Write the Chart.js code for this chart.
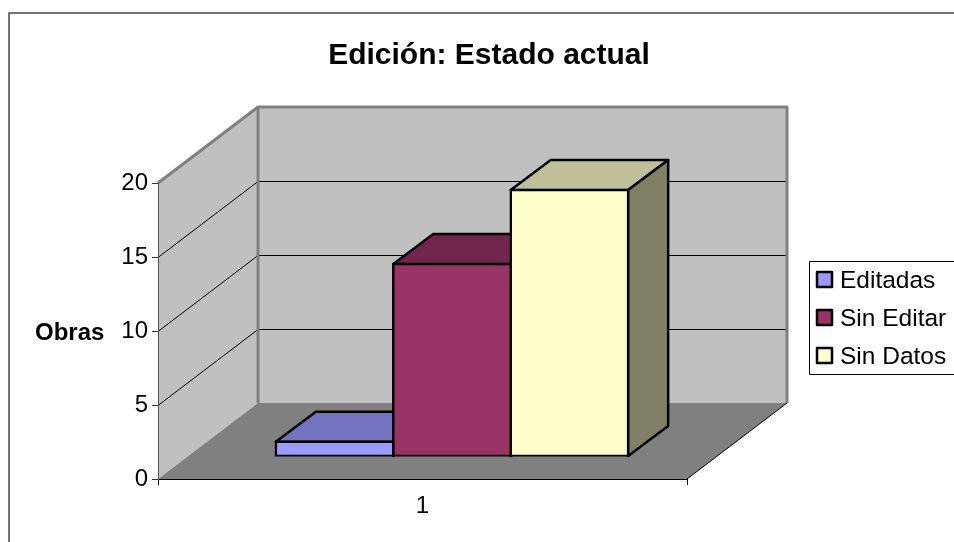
<!DOCTYPE html>
<html>
<head>
<meta charset="utf-8">
<style>
  html, body { margin: 0; padding: 0; background: #fff; }
  canvas { display: block; }
</style>
<script src="https://cdn.jsdelivr.net/npm/chart.js@4"></script>
</head>
<body>
<canvas id="myChart" width="954" height="542"></canvas>
<script>
const categories = ['1'];
const seriesNames = ['Editadas', 'Sin Editar', 'Sin Datos'];
const editadas = [1];
const sinEditar = [13];
const sinDatos = [18];
const seriesColors = ['#9999ff', '#993366', '#ffffcc'];
const topColors = ['#7373bf', '#73264d', '#bfbf99'];
const sideColors = ['#4d4d80', '#4d1a33', '#808066'];
const chartTitle = 'Edición: Estado actual';
const yAxisTitle = 'Obras';

const FONT = '"Liberation Sans", Arial, sans-serif';
// depth of the box and how far the bars sit inside it
const WALL_DX = 100, WALL_DY = 76;
const BAR_DX = 40, BAR_DY = 30;
const BAR_SHIFT_X = 29.5, BAR_SHIFT_Y = 22.5;
const BAR_LINE = 2.5;

function poly(ctx, pts, fill, stroke, width) {
  ctx.beginPath();
  pts.forEach((p, i) => i ? ctx.lineTo(p[0], p[1]) : ctx.moveTo(p[0], p[1]));
  if (fill) {
    ctx.closePath();
    ctx.fillStyle = fill;
    ctx.fill();
  }
  if (stroke) {
    ctx.strokeStyle = stroke;
    ctx.lineWidth = width;
    ctx.lineJoin = 'round';
    ctx.stroke();
  }
}

const box3d = {
  id: 'box3d',
  afterLayout(chart) {
    // title is centred over the walls, not over the canvas
    chart.titleBlock.left = 0;
    chart.titleBlock.right = 978;
  },
  beforeDraw(chart) {
    const ctx = chart.ctx;
    const { left, right, top, bottom } = chart.chartArea;
    const y = chart.scales.y;
    ctx.save();
    // outer frame
    poly(ctx, [[9, 542], [9, 13], [954, 13]], null, '#444', 1.5);
    // walls and floor
    poly(ctx, [[left, top], [left + WALL_DX, top - WALL_DY], [left + WALL_DX, bottom - WALL_DY], [left, bottom]], '#c0c0c0');
    poly(ctx, [[left + WALL_DX, top - WALL_DY], [right + WALL_DX, top - WALL_DY], [right + WALL_DX, bottom - WALL_DY], [left + WALL_DX, bottom - WALL_DY]], '#c0c0c0');
    poly(ctx, [[left, bottom], [left + WALL_DX, bottom - WALL_DY], [right + WALL_DX, bottom - WALL_DY], [right, bottom]], '#808080');
    // gridlines on both walls
    y.ticks.forEach(t => {
      if (t.value === 0) return;
      const py = y.getPixelForValue(t.value) + 0.5;
      poly(ctx, [[left, py], [left + WALL_DX, py - WALL_DY], [right + WALL_DX, py - WALL_DY]], null, '#000', 1);
    });
    // wall edges
    poly(ctx, [[left, top], [left + WALL_DX, top - WALL_DY], [right + WALL_DX, top - WALL_DY], [right + WALL_DX, bottom - WALL_DY]], null, '#808080', 3);
    poly(ctx, [[left + WALL_DX, top - WALL_DY], [left + WALL_DX, bottom - WALL_DY]], null, '#808080', 3);
    poly(ctx, [[right, bottom], [right + WALL_DX, bottom - WALL_DY]], null, '#000', 1);
    ctx.restore();
  },
  beforeDatasetsDraw(chart) {
    // top and side faces, left to right; the front faces then cover the overlaps
    const ctx = chart.ctx;
    ctx.save();
    chart.data.datasets.forEach((ds, i) => {
      const bar = chart.getDatasetMeta(i).data[0];
      const x0 = bar.x - bar.width / 2 + BAR_SHIFT_X;
      const x1 = bar.x + bar.width / 2 + BAR_SHIFT_X;
      const yt = bar.y - BAR_SHIFT_Y;
      const yb = bar.base - BAR_SHIFT_Y;
      poly(ctx, [[x0, yt], [x0 + BAR_DX, yt - BAR_DY], [x1 + BAR_DX, yt - BAR_DY], [x1, yt]], topColors[i], '#000', BAR_LINE);
      poly(ctx, [[x1, yt], [x1 + BAR_DX, yt - BAR_DY], [x1 + BAR_DX, yb - BAR_DY], [x1, yb]], sideColors[i], '#000', BAR_LINE);
    });
    ctx.restore();
  },
  beforeDatasetDraw(chart) {
    chart.ctx.save();
    chart.ctx.translate(BAR_SHIFT_X, -BAR_SHIFT_Y);
  },
  afterDatasetDraw(chart) {
    chart.ctx.restore();
  },
  afterDraw(chart) {
    const ctx = chart.ctx;
    ctx.save();
    // horizontal axis title
    ctx.font = 'bold 24px ' + FONT;
    ctx.fillStyle = '#000';
    ctx.textAlign = 'left';
    ctx.textBaseline = 'middle';
    ctx.fillText(yAxisTitle, 35, 333);
    // legend
    poly(ctx, [[954, 261.5], [809.5, 261.5], [809.5, 374.5], [954, 374.5]], null, '#000', 1);
    ctx.font = '24.5px ' + FONT;
    chart.data.datasets.forEach((ds, i) => {
      const rowY = 280 + i * 38;
      ctx.fillStyle = ds.backgroundColor;
      ctx.fillRect(817, rowY - 8, 15, 15);
      ctx.strokeStyle = '#000';
      ctx.lineWidth = 2.5;
      ctx.strokeRect(817, rowY - 8, 15, 15);
      ctx.fillStyle = '#000';
      ctx.fillText(ds.label, 840, rowY + 1);
    });
    ctx.restore();
  }
};

const seriesValues = [editadas, sinEditar, sinDatos];

new Chart(document.getElementById('myChart').getContext('2d'), {
  type: 'bar',
  data: {
    labels: categories,
    datasets: seriesNames.map((name, i) => ({
      label: name,
      data: seriesValues[i],
      backgroundColor: seriesColors[i],
      borderColor: '#000',
      borderWidth: BAR_LINE,
      borderSkipped: false,
      inflateAmount: BAR_LINE / 2,
      barPercentage: 1,
      categoryPercentage: 0.666
    }))
  },
  options: {
    responsive: false,
    animation: false,
    layout: { padding: { left: 0, right: 267, top: 0, bottom: 0 } },
    plugins: {
      legend: { display: false },
      tooltip: { enabled: false },
      title: {
        display: true,
        text: chartTitle,
        color: '#000',
        font: { family: FONT, size: 30, weight: 'bold', lineHeight: 1.2 },
        padding: { top: 38, bottom: 109 }
      }
    },
    scales: {
      x: {
        afterFit(scale) { scale.height = 63; },
        grid: { drawOnChartArea: false, tickLength: 6, color: '#000' },
        border: { color: '#000', width: 1 },
        ticks: { color: '#000', padding: 7, font: { family: FONT, size: 24 } }
      },
      y: {
        min: 0,
        max: 20,
        afterFit(scale) { scale.width = 158; },
        grid: { drawOnChartArea: false, tickLength: 6, color: '#333' },
        border: { color: '#555', width: 1 },
        ticks: { stepSize: 5, color: '#000', padding: 4, font: { family: FONT, size: 24 } }
      }
    }
  },
  plugins: [box3d]
});
</script>
</body>
</html>
